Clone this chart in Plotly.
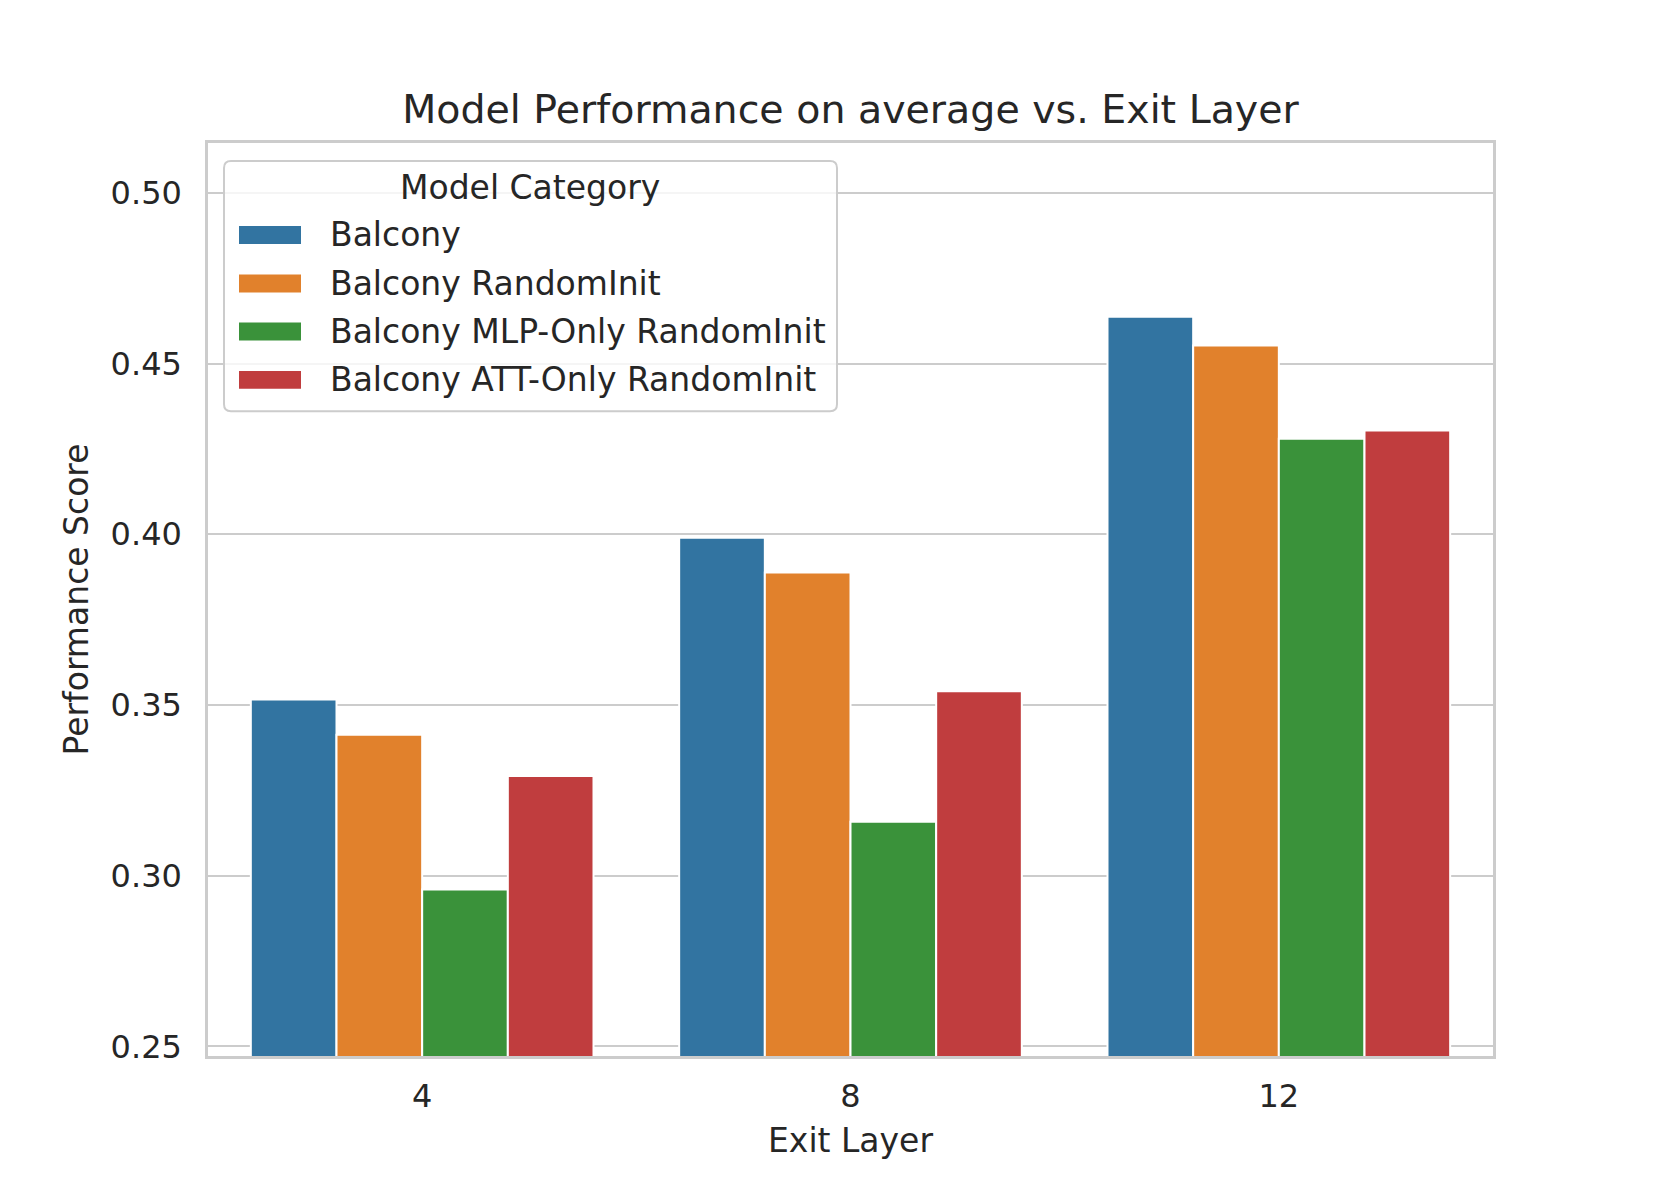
import plotly.graph_objects as go

exit_layers = ["4", "8", "12"]
series_names = ["Balcony", "Balcony RandomInit", "Balcony MLP-Only RandomInit", "Balcony ATT-Only RandomInit"]
balcony = [0.3516, 0.3990, 0.4637]
balcony_random = [0.3413, 0.3888, 0.4553]
balcony_mlp = [0.2960, 0.3158, 0.4280]
balcony_att = [0.3292, 0.3540, 0.4304]
colors = ["#3274a1", "#e1812c", "#3a923a", "#c03d3e"]
legend_title = "Model Category"

TEXT = "#262626"
FONT = "DejaVu Sans"
W, H = 1661, 1186
ML, MR, MT, MB = 200, 176, 134.5, 138
PW, PH = W - ML - MR, H - MT - MB


def px(x):
    return (x - ML) / PW


def py(y):
    return 1 - (y - MT) / PH


fig = go.Figure()
for name, vals, col in zip(series_names, [balcony, balcony_random, balcony_mlp, balcony_att], colors):
    fig.add_trace(go.Bar(
        x=exit_layers, y=vals, name=name,
        marker=dict(color=col, line=dict(color="white", width=2)),
    ))

# legend drawn as a box with patches and labels
bx0, bx1, by0, by1, r = 216, 829, 152.5, 403, 7
path = (f"M {px(bx0 + r)} {py(by0)} L {px(bx1 - r)} {py(by0)} "
        f"Q {px(bx1)} {py(by0)} {px(bx1)} {py(by0 + r)} "
        f"L {px(bx1)} {py(by1 - r)} Q {px(bx1)} {py(by1)} {px(bx1 - r)} {py(by1)} "
        f"L {px(bx0 + r)} {py(by1)} Q {px(bx0)} {py(by1)} {px(bx0)} {py(by1 - r)} "
        f"L {px(bx0)} {py(by0 + r)} Q {px(bx0)} {py(by0)} {px(bx0 + r)} {py(by0)} Z")
shapes = [dict(type="path", path=path, xref="paper", yref="paper",
               fillcolor="rgba(255,255,255,0.8)", line=dict(color="#cccccc", width=2), layer="above")]
annotations = [dict(text=legend_title, x=px(522), y=py(179), xref="paper", yref="paper",
                    xanchor="center", yanchor="middle", showarrow=False,
                    font=dict(size=33, color=TEXT, family=FONT))]
row_y = [226.5, 275, 323, 371.5]
for name, col, ry in zip(series_names, colors, row_y):
    shapes.append(dict(type="rect", xref="paper", yref="paper",
                       x0=px(231), x1=px(293), y0=py(ry - 9), y1=py(ry + 9),
                       fillcolor=col, line=dict(width=0), layer="above"))
    annotations.append(dict(text=name, x=px(320), y=py(ry), xref="paper", yref="paper",
                            xanchor="left", yanchor="middle", showarrow=False,
                            font=dict(size=33, color=TEXT, family=FONT)))

fig.update_layout(
    width=W, height=H,
    paper_bgcolor="white", plot_bgcolor="white",
    margin=dict(l=ML, r=MR, t=MT, b=MB),
    barmode="group", bargap=0.2, bargroupgap=0,
    font=dict(family=FONT, color=TEXT, size=32),
    title=dict(text="Model Performance on average vs. Exit Layer",
               x=(ML + W - MR) / 2 / W, xanchor="center",
               y=1 - 101.5 / H, yanchor="middle",
               font=dict(size=39.5, color=TEXT, family=FONT)),
    showlegend=False,
    shapes=shapes,
    annotations=annotations,
)

fig.update_xaxes(
    title=dict(text="Exit Layer", font=dict(size=33), standoff=15),
    showline=True, linecolor="#cccccc", linewidth=2.5, mirror=True,
    showgrid=False, ticks="outside", ticklen=10, tickcolor="rgba(0,0,0,0)",
    tickfont=dict(size=32),
)
fig.update_yaxes(
    title=dict(text="Performance Score", font=dict(size=33), standoff=13),
    range=[0.2472, 0.5146],
    tickvals=[0.25, 0.30, 0.35, 0.40, 0.45, 0.50], tickformat=".2f",
    showline=True, linecolor="#cccccc", linewidth=2.5, mirror=True,
    showgrid=True, gridcolor="#cccccc", gridwidth=2.2, zeroline=False,
    ticks="outside", ticklen=17, tickcolor="rgba(0,0,0,0)",
    tickfont=dict(size=32),
)

fig.write_html("out.html")
